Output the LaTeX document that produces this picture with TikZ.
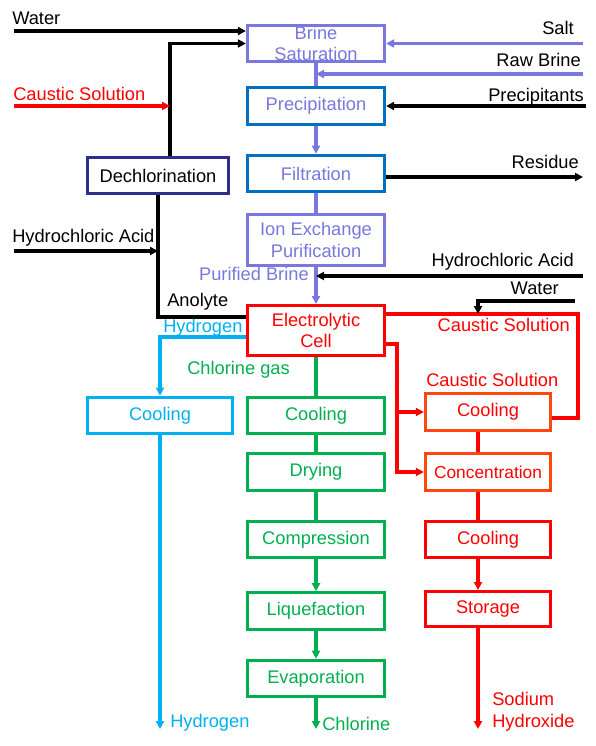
\documentclass[tikz,border=0pt]{standalone}
\usepackage{fontspec}
\setmainfont{Liberation Sans}
\usetikzlibrary{arrows.meta,positioning}
\definecolor{brinelav}{RGB}{120,120,222}
\definecolor{procblue}{RGB}{0,112,192}
\definecolor{dechnavy}{RGB}{46,46,140}
\definecolor{hydcyan}{RGB}{0,176,240}
\definecolor{chlgreen}{RGB}{0,176,80}
\definecolor{naorange}{RGB}{255,72,16}
\definecolor{nared}{RGB}{255,0,0}

\begin{document}
\begin{tikzpicture}[x=0.75pt, y=-0.75pt, >={Triangle[length=6pt,width=6pt]},
    unit/.style={draw, line width=2.2pt, fill=white, minimum width=103pt, minimum height=27.5pt, inner sep=0.5pt, align=center, font=\fontsize{13.7}{16.3}\selectfont},
    brinebox/.style={unit, draw=brinelav, text=brinelav},
    gasbox/.style={unit, draw=chlgreen, text=chlgreen},
    naohbox/.style={unit, draw=nared, text=nared, minimum width=94pt},
    lbl/.style={font=\fontsize{13.7}{16.5}\selectfont, inner sep=0pt},
    flow/.style={line width=2.4pt}]

    \useasboundingbox (0,0) rectangle (596,746);

    % brine treatment column
    \node[brinebox] (bsat) at (316,43.5) {Brine\\Saturation};
    \node[brinebox, draw=procblue] (prec) at (316,106) {Precipitation};
    \node[brinebox, draw=procblue] (filt) at (316,173.5) {Filtration};
    \node[brinebox, minimum height=38pt] (ionx) at (316,240) {Ion Exchange\\Purification};
    \node[unit, draw=nared, text=nared, minimum height=37.5pt] (cell) at (316,330.5) {Electrolytic\\Cell};
    \node[unit, draw=dechnavy, minimum width=106pt] (dechl) at (158,175.5) {Dechlorination};

    % hydrogen, chlorine and caustic lines
    \node[unit, draw=hydcyan, text=hydcyan, minimum width=109pt] (hcool) at (160,415.5) {Cooling};
    \node[gasbox] (ccool) at (316,415.5) {Cooling};
    \node[gasbox] (dry) at (316,472) {Drying};
    \node[gasbox] (comp) at (316,539.5) {Compression};
    \node[gasbox] (liq) at (316,611) {Liquefaction};
    \node[gasbox] (evap) at (316,678.5) {Evaporation};
    \node[naohbox, draw=naorange] (scool) at (488,412) {Cooling};
    \node[naohbox, draw=naorange, font=\fontsize{13}{15}\selectfont] (conc) at (488,472) {Concentration};
    \node[naohbox] (ncool) at (488,539.5) {Cooling};
    \node[naohbox, minimum height=26.3pt] (stor) at (488,609) {Storage};

    % free ends
    \coordinate (watin) at (14,31);
    \coordinate (cauin) at (14,106);
    \coordinate (hcllin) at (14,251);
    \coordinate (dlx) at (170,0);
    \coordinate (anoly) at (158,317);
    \coordinate (h2y) at (0,337);
    \coordinate (saltin) at (583,43.5);
    \coordinate (rawin) at (583,74);
    \coordinate (precin) at (586,106);
    \coordinate (resout) at (583,177);
    \coordinate (hclrin) at (583,276);
    \coordinate (watrin) at (575,301);
    \coordinate (watrx) at (478,0);
    \coordinate (cloop) at (578,314);
    \coordinate (cret) at (578,418);
    \coordinate (brx) at (397,344);
    \coordinate (h2out) at (160,729);
    \coordinate (clout) at (316,729);
    \coordinate (naout) at (478,729);

    % feeds -> brine saturation
    \draw[flow,->] (watin) -- (watin -| bsat.west);
    \draw[flow,->] (dechl.north -| dlx) |- (bsat.west);
    \draw[flow,->,nared] (cauin) -- (cauin -| dlx);
    \draw[flow,->,brinelav] (saltin) -- (bsat.east);
    \draw[flow,->,brinelav] (rawin) -- (rawin -| bsat.south);

    % brine column
    \draw[flow,brinelav] (bsat.south) -- (prec.north);
    \draw[flow,->,brinelav] (prec.south) -- (filt.north);
    \draw[flow,brinelav] (filt.south) -- (ionx.north);
    \draw[flow,->,brinelav] (ionx.south) -- (cell.north);
    \draw[flow,->] (precin) -- (prec.east);
    \draw[flow,->] (resout -| filt.east) -- (resout);
    \draw[flow,->] (hclrin) -- (hclrin -| cell.north);

    % anolyte back to dechlorination
    \draw[flow] (anoly -| cell.west) -- (anoly) -- (dechl.south);
    \draw[flow,->] (hcllin) -- (hcllin -| anoly);

    % hydrogen
    \draw[flow,->,hydcyan] (h2y -| cell.west) -| (hcool.north);
    \draw[flow,->,hydcyan] (hcool.south) -- (h2out);

    % chlorine
    \draw[flow,chlgreen] (cell.south) -- (ccool.north);
    \draw[flow,chlgreen] (ccool.south) -- (dry.north);
    \draw[flow,chlgreen] (dry.south) -- (comp.north);
    \draw[flow,->,chlgreen] (comp.south) -- (liq.north);
    \draw[flow,->,chlgreen] (liq.south) -- (evap.north);
    \draw[flow,->,chlgreen] (evap.south) -- (clout);

    % caustic
    \draw[flow,nared] (cloop -| cell.east) -- (cloop) -- (cret) -- (cret -| scool.east);
    \draw[flow,->] (watrin) -- (watrin -| watrx) -- (watrx |- cloop);
    \draw[flow,->,nared] (brx -| cell.east) -- (brx) |- (conc.west);
    \draw[flow,->,nared] (brx |- scool.west) -- (scool.west);
    \draw[flow,nared] (naout |- scool.south) -- (naout |- conc.north);
    \draw[flow,nared] (naout |- conc.south) -- (naout |- ncool.north);
    \draw[flow,->,nared] (naout |- ncool.south) -- (naout |- stor.north);
    \draw[flow,->,nared] (naout |- stor.south) -- (naout);

    % labels
    \node[lbl, anchor=base west] (watlbl) at (12,24) {Water};
    \node[lbl, anchor=base west, text=nared] (caulbl) at (13,100) {Caustic Solution};
    \node[lbl, anchor=base west] (hcllbl) at (12,242) {Hydrochloric Acid};
    \node[lbl, anchor=base east] (saltlbl) at (574,34) {Salt};
    \node[lbl, anchor=base east] (rawlbl) at (581,66) {Raw Brine};
    \node[lbl, anchor=base east] (preclbl) at (584,101) {Precipitants};
    \node[lbl, anchor=base east] (reslbl) at (579,168) {Residue};
    \node[lbl, anchor=base east] (hclrlbl) at (574,266) {Hydrochloric Acid};
    \node[lbl, anchor=base east] (watrlbl) at (559,294) {Water};
    \node[lbl, anchor=base east, text=brinelav] (purlbl) at (309,280) {Purified Brine};
    \node[lbl, anchor=base west] (anolbl) at (167,306) {Anolyte};
    \node[lbl, anchor=base west, text=hydcyan] (h2lbl) at (163,332) {Hydrogen};
    \node[lbl, anchor=base west, text=chlgreen] (cl2lbl) at (187,374) {Chlorine gas};
    \node[lbl, anchor=base east, text=nared] (cslbl) at (570,331) {Caustic Solution};
    \node[lbl, anchor=base west, text=nared] (cs2lbl) at (426,386) {Caustic Solution};
    \node[lbl, anchor=base west, text=hydcyan] (h2outlbl) at (170,727) {Hydrogen};
    \node[lbl, anchor=base west, text=chlgreen] (cloutlbl) at (322,730) {Chlorine};
    \node[lbl, anchor=base west, align=left, text=nared] (naohlbl) at (492,727) {Sodium\\Hydroxide};
\end{tikzpicture}
\end{document}
